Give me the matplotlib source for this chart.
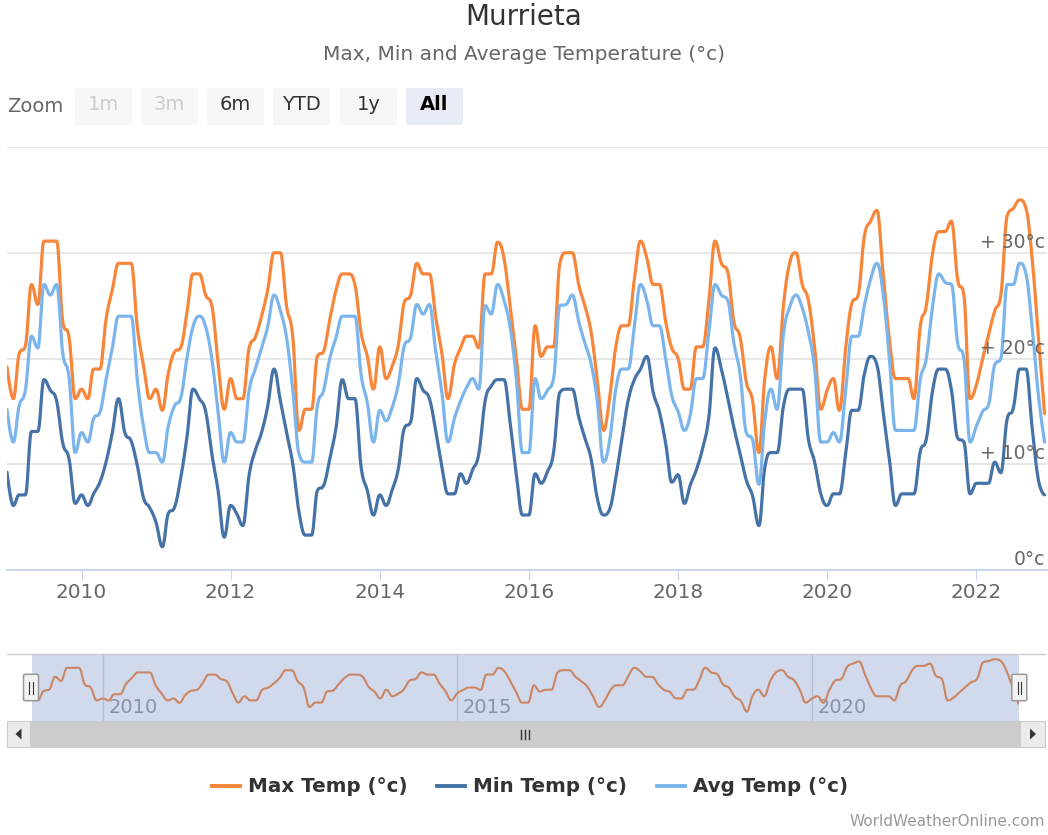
import numpy as np
import pandas as pd
import matplotlib
matplotlib.use("Agg")
import matplotlib.pyplot as plt
import matplotlib.dates as mdates
from matplotlib.patches import FancyBboxPatch, Rectangle, Polygon
from datetime import datetime

W, H = 1048, 835

# monthly data, Jan 2009 .. Dec 2022
months = pd.date_range("2009-01-01", periods=168, freq="MS")

max_temp = [
    19.2, 16.2, 20.4, 21.2, 27, 25.1, 31.1, 31.1, 31.1, 23.5, 22, 16.2,
    17.1, 16.2, 19, 19, 23.7, 26.5, 29, 29, 29, 23, 19.3, 16.2,
    17.1, 15.1, 18.5, 20.6, 21, 24.3, 28, 28, 26, 25, 19.6, 15.2,
    18.1, 16.2, 16.2, 21, 22, 24, 26.5, 30, 30, 25, 22, 13.2,
    15.2, 15.2, 20.2, 20.7, 23.7, 26.5, 28, 28, 27, 22.5, 20.2, 17.1,
    21.1, 18.1, 19.2, 21.2, 25.3, 26, 29, 28, 28, 24, 20.5, 16.2,
    19.4, 21, 22.1, 22.1, 21, 28, 28, 31, 29.5, 25, 20, 15.2,
    15.2, 23.1, 20.2, 21.1, 21.1, 29, 30, 30, 27, 25, 22.5, 18,
    13.2, 16.5, 21, 23.1, 23.1, 27.5, 31.1, 29.5, 27, 27, 23.5, 21,
    20, 17.1, 17.1, 21.1, 21.1, 25.5, 31.1, 29, 28.2, 23.5, 22, 17.8,
    16, 11.1, 18, 21.1, 18.1, 25, 29, 30, 27, 25.5, 21, 15.2,
    17, 18.1, 15.1, 21, 25.2, 26, 31.5, 33, 34, 28.1, 21.8, 18.1,
    18.1, 18.1, 16.2, 23, 25, 30, 32, 32, 33, 27.5, 26, 16.2,
    17.5, 20, 22.2, 24.5, 26, 33.5, 34.2, 35, 34.2, 29.5, 22, 14.8,
]
min_temp = [
    9.25, 6.1, 7.1, 7.1, 13.1, 13.1, 18, 17, 16, 12, 10.5, 6.3,
    7.1, 6.1, 7.2, 8.3, 10.2, 13, 16.2, 13, 12.2, 9.9, 6.8, 5.9,
    4.5, 2.2, 5.3, 5.9, 8.6, 12.5, 17.1, 16.2, 15, 11, 7.5, 3.1,
    6.1, 5.3, 4.2, 9, 11.3, 13, 15.5, 19, 16, 13, 10, 5.5,
    3.3, 3.3, 7.5, 8, 10.5, 13.5, 18, 16.2, 16.2, 9.8, 7.5, 5.2,
    7.1, 6.1, 7.5, 9.5, 13.4, 14, 18.1, 17, 16.2, 13.3, 9.8, 7.2,
    7.2, 9.1, 8.2, 9.5, 11, 16, 17.4, 18, 18, 14, 9, 5.2,
    5.2, 9.1, 8.2, 9.3, 11.1, 16.8, 17.1, 17.1, 14.5, 12.5, 10.5, 6.8,
    5.2, 5.8, 8.6, 12.4, 16, 18, 19, 20.2, 16.8, 15, 12, 8.3,
    9, 6.3, 8, 9.5, 11.5, 14.5, 21, 19, 16.3, 13.5, 11, 8.5,
    7, 4.2, 9.6, 11.1, 11.1, 15.5, 17.1, 17.1, 17.1, 12.4, 10.2, 7.2,
    6.1, 7.2, 7.2, 11, 15.1, 15.1, 18.5, 20.2, 19.4, 15, 10.5, 6.1,
    7.2, 7.2, 7.2, 11.2, 12.4, 17, 19, 19, 17, 12.5, 12.1, 7.2,
    8.2, 8.2, 8.2, 10.2, 9.2, 14.3, 15.3, 19, 19, 13.5, 8.5, 7.1,
]
avg_temp = [
    15.2, 12.1, 15.5, 17, 22.1, 21, 27, 26, 27, 20.5, 18.2, 11.1,
    13, 12.1, 14.3, 14.9, 18, 21, 24, 24, 24, 18, 13.5, 11.1,
    11.1, 10.2, 13.5, 15.5, 16.2, 20, 23, 24, 23, 20, 15, 10.2,
    13, 12.1, 12.1, 17, 19, 21, 23, 26, 24.5, 22, 17, 11,
    10.2, 10.2, 15.5, 17, 20, 22, 24, 24, 24, 18.5, 15.8, 12.1,
    15.1, 14.1, 15.3, 17.5, 21.2, 22, 25.1, 24.2, 25.1, 20.8, 16.8, 12.1,
    14.3, 16, 17.2, 18.1, 17.1, 25, 24.2, 27, 25.5, 23, 18, 11.1,
    11.1, 18.1, 16.2, 17, 18.1, 25, 25.1, 26, 23.5, 21.5, 19.5, 16,
    10.2, 12.4, 17, 19, 19, 23, 27, 25.5, 23.1, 23.1, 20, 16.5,
    15, 13.2, 14.6, 18.1, 18.1, 22.5, 27, 26, 25.5, 21.5, 18.5, 13,
    12.3, 8.1, 14, 17.1, 15.2, 22.3, 24.8, 26, 24.8, 22.5, 19, 12.1,
    12.1, 13, 12.1, 17, 22.1, 22.1, 25, 27.5, 29, 26.2, 20, 13.2,
    13.2, 13.2, 13.2, 18, 20, 25, 28, 27.2, 27, 21.5, 20, 12.1,
    13.6, 15, 15.6, 19.4, 20, 27, 27, 29, 28, 23, 16.5, 12.1,
]

series_names = ["Max Temp (°c)", "Min Temp (°c)", "Avg Temp (°c)"]
series_colors = ["#f7863a", "#4572a7", "#7cb5ec"]

y_ticks = [10, 20, 30, 40]
y_labels = {0: "0°c", 10: "+ 10°c", 20: "+ 20°c", 30: "+ 30°c"}
x_years = [2010, 2012, 2014, 2016, 2018, 2020, 2022]
nav_years = [2010, 2015, 2020]
zoom_buttons = ["1m", "3m", "6m", "YTD", "1y", "All"]


def hc_spline(x, y, steps=16):
    # same smoothing as a highcharts spline series
    x = np.asarray(x, float)
    y = np.asarray(y, float)
    n = len(x)
    lcx, lcy = x.copy(), y.copy()
    rcx, rcy = x.copy(), y.copy()
    sm = 1.5
    d = sm + 1
    for i in range(1, n - 1):
        px, py = x[i], y[i]
        lx, ly = x[i - 1], y[i - 1]
        nx, ny = x[i + 1], y[i + 1]
        lX = (sm * px + lx) / d
        lY = (sm * py + ly) / d
        rX = (sm * px + nx) / d
        rY = (sm * py + ny) / d
        corr = (rY - lY) * (rX - px) / (rX - lX) + py - rY
        lY += corr
        rY += corr
        if lY > ly and lY > py:
            lY = max(ly, py); rY = 2 * py - lY
        elif lY < ly and lY < py:
            lY = min(ly, py); rY = 2 * py - lY
        if rY > ny and rY > py:
            rY = max(ny, py); lY = 2 * py - rY
        elif rY < ny and rY < py:
            rY = min(ny, py); lY = 2 * py - rY
        lcx[i], lcy[i], rcx[i], rcy[i] = lX, lY, rX, rY
    t = np.linspace(0, 1, steps, endpoint=False)[:, None]
    a, b, c, e = (1 - t) ** 3, 3 * (1 - t) ** 2 * t, 3 * (1 - t) * t ** 2, t ** 3
    bx = a * x[:-1] + b * rcx[:-1] + c * lcx[1:] + e * x[1:]
    by = a * y[:-1] + b * rcy[:-1] + c * lcy[1:] + e * y[1:]
    return np.append(bx.T.ravel(), x[-1]), np.append(by.T.ravel(), y[-1])


xd = mdates.date2num(months.to_pydatetime())

fig = plt.figure(figsize=(W / 100, H / 100), dpi=100)
fig.patch.set_facecolor("white")

# main chart
ax = fig.add_axes([7 / W, 1 - 570 / H, 1040 / W, 423 / H])
for vals, col in zip([max_temp, min_temp, avg_temp], series_colors):
    sx, sy = hc_spline(xd, vals)
    ax.plot(sx, sy, color=col, lw=2.3, solid_capstyle="round", zorder=3)
ax.set_xlim(xd[0], xd[-1] + 12)
ax.set_ylim(0, 40)
for v in y_ticks:
    ax.axhline(v, color="#e3e3e3", lw=1.2, zorder=1)
for v, lab in y_labels.items():
    ax.annotate(lab, xy=(0.998, v), xycoords=("axes fraction", "data"),
                xytext=(0, 7.5), textcoords="offset points",
                ha="right", va="center", fontsize=13.5, color="#666666")
ax.set_yticks([])
for s in ["top", "left", "right"]:
    ax.spines[s].set_visible(False)
ax.spines["bottom"].set_color("#ccd6eb")
ax.spines["bottom"].set_linewidth(1.4)
ax.set_xticks([mdates.date2num(datetime(yy, 1, 1)) for yy in x_years])
ax.set_xticklabels([str(yy) for yy in x_years])
ax.tick_params(axis="x", length=7.2, width=0.8, color="#ccd6eb", pad=2.5,
               labelsize=14.4, labelcolor="#666666")

# navigator
nav = fig.add_axes([31.8 / W, 1 - 721 / H, (1018.5 - 31.8) / W, 67 / H])
nav.set_xlim(xd[0], xd[-1])
nav.set_ylim(6.8, 37.4)
nav.axis("off")
for yy in nav_years:
    gx = mdates.date2num(datetime(yy, 1, 1))
    nav.axvline(gx, color="#d9d9d9", lw=1.0, zorder=1)
    nav.annotate(str(yy), xy=(gx, 0.2), xycoords=("data", "axes fraction"),
                 xytext=(4, 0), textcoords="offset points", ha="left", va="center",
                 fontsize=14, color="#999999", zorder=2)
nx_, ny_ = hc_spline(xd, max_temp)
nav.plot(nx_, ny_, color=series_colors[0], lw=1.5, zorder=2)
nav.axvspan(xd[0], xd[-1], color=(102 / 255, 133 / 255, 194 / 255), alpha=0.3, lw=0, zorder=4)

# decoration layer in pixel coords
ov = fig.add_axes([0, 0, 1, 1])
ov.set_xlim(0, W)
ov.set_ylim(H, 0)
ov.axis("off")
ov.patch.set_alpha(0)
ov.set_zorder(5)

ov.text(W / 2, 17, "Murrieta", ha="center", va="center", fontsize=20, color="#333333")
ov.text(W / 2, 55, "Max, Min and Average Temperature (°c)", ha="center", va="center",
        fontsize=14.5, color="#666666")

ov.text(7, 106, "Zoom", ha="left", va="center", fontsize=14, color="#666666")
btn_x = [75, 141, 207, 273, 340, 406]
for i, (bx0, lab) in enumerate(zip(btn_x, zoom_buttons)):
    disabled = i < 2
    selected = lab == "All"
    fc = "#e6ebf5" if selected else "#f7f7f7"
    ov.add_patch(FancyBboxPatch((bx0, 88), 57, 37, boxstyle="round,pad=0,rounding_size=2",
                                fc=fc, ec="none"))
    tc = "#cccccc" if disabled else ("#000000" if selected else "#333333")
    ov.text(bx0 + 28.5, 105, lab, ha="center", va="center", fontsize=14, color=tc,
            fontweight="bold" if selected else "normal")

# navigator outline and handles
ov.plot([7, 1045], [654, 654], color="#cccccc", lw=1.0)
for hx in [23.5, 1011.8]:
    ov.add_patch(FancyBboxPatch((hx, 674.3), 15, 26.4, boxstyle="round,pad=0,rounding_size=1.5",
                                fc="#f2f2f2", ec="#999999", lw=1.1))
    for lx in [hx + 5.8, hx + 9.2]:
        ov.plot([lx, lx], [681.5, 694], color="#333333", lw=0.8)

# scrollbar
ov.add_patch(Rectangle((30, 721), 990, 26, fc="#cccccc", ec="#cccccc", lw=0.8))
ov.add_patch(Rectangle((7, 721), 23, 26, fc="#ebebeb", ec="#cccccc", lw=0.8))
ov.add_patch(Rectangle((1020, 721), 25, 26, fc="#ebebeb", ec="#cccccc", lw=0.8))
ov.add_patch(Polygon([[15.5, 734], [21.5, 728.5], [21.5, 739.5]], closed=True, fc="#333333", ec="none"))
ov.add_patch(Polygon([[1036, 734], [1030, 728.5], [1030, 739.5]], closed=True, fc="#333333", ec="none"))
for rx in [521, 525, 529]:
    ov.plot([rx, rx], [729.5, 738.5], color="#333333", lw=1.0)

# legend
leg_x = [212, 437, 657]
for lx, name, col in zip(leg_x, series_names, series_colors):
    ov.plot([lx, lx + 28], [786, 786], color=col, lw=2.8)
    ov.text(lx + 36, 786, name, ha="left", va="center", fontsize=14.3,
            fontweight="bold", color="#333333")

ov.text(1045, 822, "WorldWeatherOnline.com", ha="right", va="center",
        fontsize=11, color="#999999")

fig.savefig("out.png", dpi=100)
